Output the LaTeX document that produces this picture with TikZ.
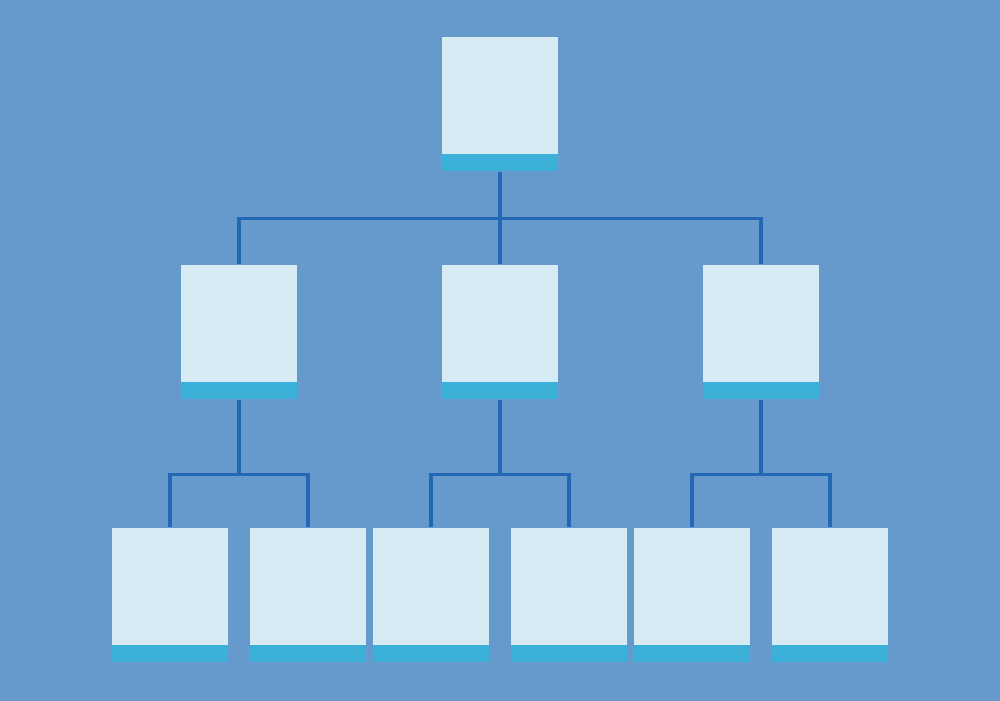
\documentclass[tikz,border=0pt]{standalone}
\usetikzlibrary{positioning}

\definecolor{bgblue}{HTML}{6699CC}
\definecolor{boxlight}{HTML}{D6EBF4}
\definecolor{boxstrip}{HTML}{3BB0D9}
\definecolor{lineblue}{HTML}{2368B5}

\tikzset{
orgbox/.style={fill=boxlight,rectangle,inner sep=0pt,minimum width=1.16cm,minimum height=1.34cm,
  path picture={\fill[boxstrip] (path picture bounding box.south west) rectangle ([yshift=0.17cm]path picture bounding box.south east);}},
elbow/.style={edge from parent path={(\tikzparentnode.south) -- ++(0,-#1) -| (\tikzchildnode.north)}}}

\begin{document}
\begin{tikzpicture}
  [every node/.style={orgbox},
   edge from parent/.style={draw=lineblue,line width=0.9pt},
   level 1/.style={level distance=2.28cm,sibling distance=2.61cm,elbow=0.47cm},
   level 2/.style={level distance=2.63cm,sibling distance=1.38cm,elbow=0.75cm}]
   \useasboundingbox (0,0) rectangle (10,7);
   \fill[bgblue] (-0.1,-0.1) rectangle (10.1,7.1);
   \node (root) at (5,5.96) {}
   child {node (left) {}
       child {node (leafa) {}}
       child {node (leafb) {}}
   }
   child {node (mid) {}
       child {node (leafc) {}}
       child {node (leafd) {}}
   }
   child {node (right) {}
       child {node (leafe) {}}
       child {node (leaff) {}}
   };
\end{tikzpicture}
\end{document}
